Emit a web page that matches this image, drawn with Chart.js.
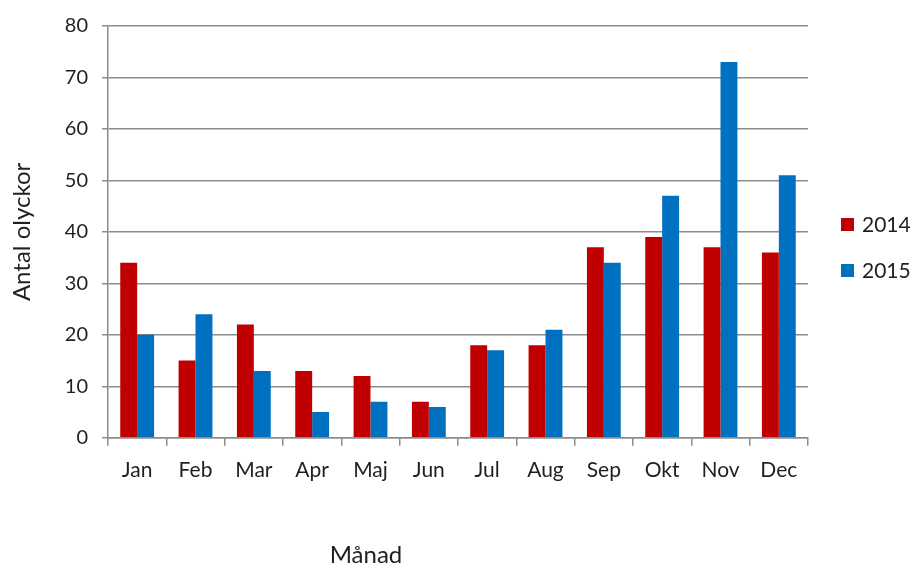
<!DOCTYPE html>
<html>
<head>
<meta charset="utf-8">
<script src="https://cdn.jsdelivr.net/npm/chart.js@4"></script>
<style>
  html, body { margin: 0; padding: 0; background: #fff; }
  #wrap { width: 915px; height: 569px; }
</style>
</head>
<body>
<div id="wrap"><canvas id="chart"></canvas></div>
<script>
// Data
const months = ['Jan', 'Feb', 'Mar', 'Apr', 'Maj', 'Jun', 'Jul', 'Aug', 'Sep', 'Okt', 'Nov', 'Dec'];
const values2014 = [34, 15, 22, 13, 12, 7, 18, 18, 37, 39, 37, 36];
const values2015 = [20, 24, 13, 5, 7, 6, 17, 21, 34, 47, 73, 51];
const xTitle = 'Månad';
const yTitle = 'Antal olyckor';

const FONT = 'Lato, "Open Sans", sans-serif';
const textColor = '#1f1f1f';
const gridColor = '#8c8c8c';

// Legend at the right and the x axis title, drawn by hand (Excel-like placement)
const extras = {
    id: 'extras',
    afterDraw(chart) {
        const c = chart.ctx;
        const area = chart.chartArea;
        c.save();
        c.textBaseline = 'middle';
        c.font = '21px ' + FONT;
        chart.data.datasets.forEach((ds, i) => {
            const y = 224 + i * 46;
            c.fillStyle = ds.backgroundColor;
            c.fillRect(area.right + 33, y - 6, 13, 13);
            c.fillStyle = textColor;
            c.textAlign = 'left';
            c.fillText(ds.label, area.right + 54, y + 1);
        });
        c.font = '24px ' + FONT;
        c.textAlign = 'center';
        c.fillText(xTitle, 366, 555);
        c.restore();
    }
};

const ctx = document.getElementById('chart').getContext('2d');
const chart = new Chart(ctx, {
    type: 'bar',
    data: {
        labels: months,
        datasets: [
            { label: '2014', data: values2014, backgroundColor: '#c00000', categoryPercentage: 0.58, barPercentage: 1 },
            { label: '2015', data: values2015, backgroundColor: '#0070c0', categoryPercentage: 0.58, barPercentage: 1 }
        ]
    },
    options: {
        responsive: true,
        maintainAspectRatio: false,
        animation: false,
        layout: { padding: { top: 22, right: 107, bottom: 74, left: 8 } },
        plugins: {
            tooltip: { enabled: false },
            legend: { display: false }
        },
        scales: {
            x: {
                grid: { drawOnChartArea: false, offset: true, color: gridColor, tickLength: 8, lineWidth: 1.5 },
                border: { color: gridColor, width: 1.5 },
                ticks: { color: textColor, font: { family: FONT, size: 21 }, padding: 12, maxRotation: 0 }
            },
            y: {
                min: 0,
                max: 80,
                ticks: { stepSize: 10, color: textColor, font: { family: FONT, size: 20 }, padding: 14 },
                grid: { color: gridColor, lineWidth: 1.5, tickLength: 6 },
                border: { color: gridColor, width: 1.5 },
                title: { display: true, text: yTitle, color: textColor, font: { family: FONT, size: 24 }, padding: { top: 0, bottom: 14 } }
            }
        }
    },
    plugins: [extras]
});
</script>
</body>
</html>
